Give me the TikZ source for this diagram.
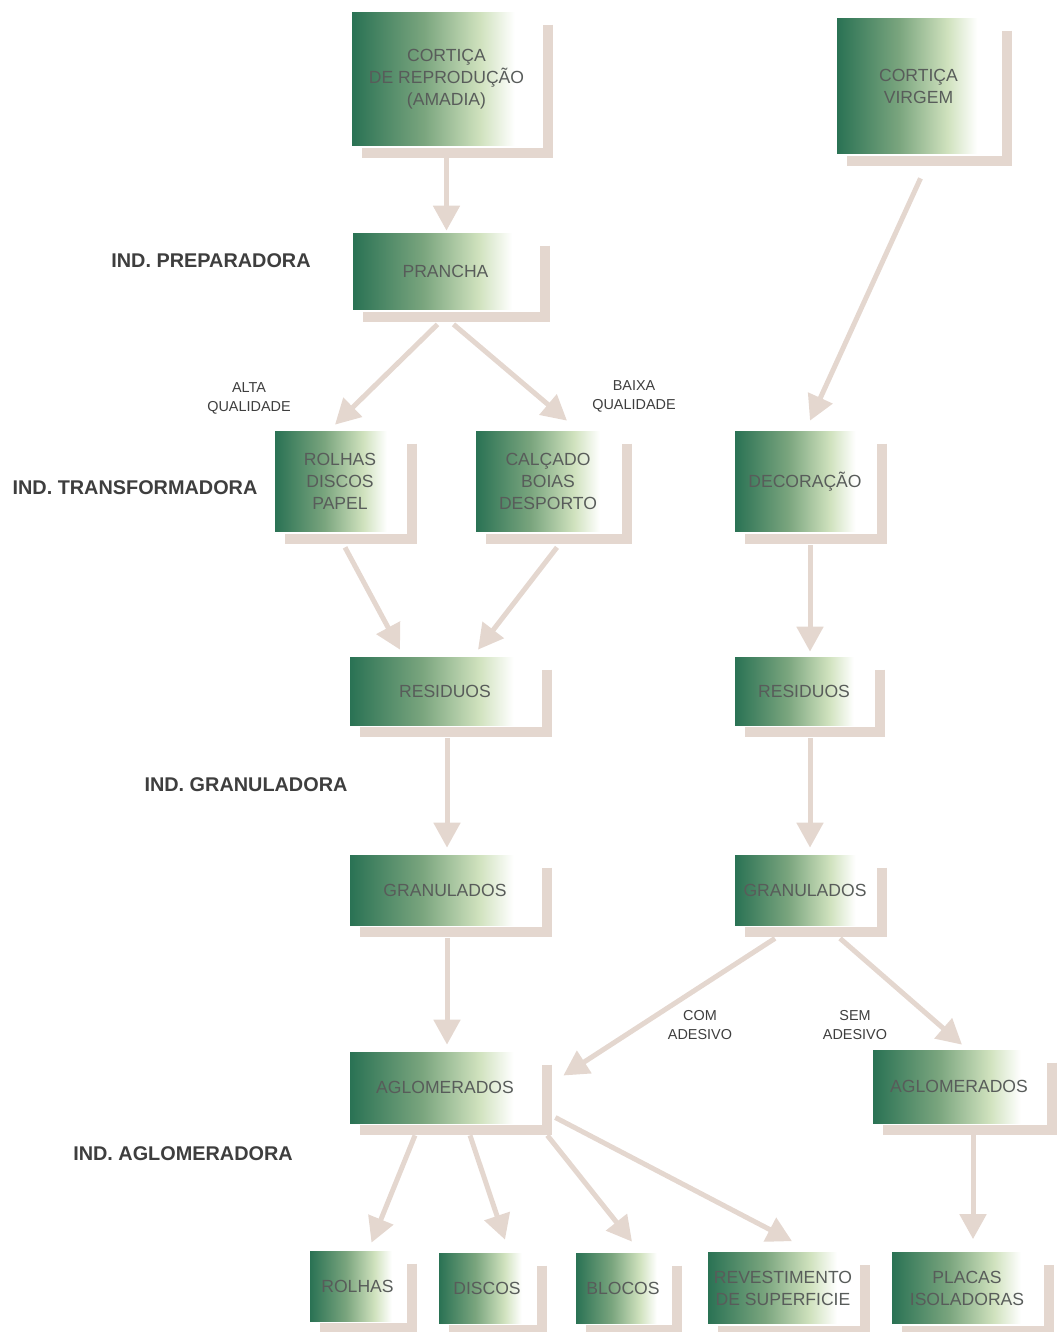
\documentclass[tikz,border=0pt]{standalone}
\usepackage{fontspec}
\setmainfont{Liberation Sans}
\usetikzlibrary{arrows.meta}
\definecolor{cwverde}{RGB}{42,114,84}
\definecolor{cwverdemed}{RGB}{122,165,126}
\definecolor{cwverdeclaro}{RGB}{208,226,190}
\definecolor{cwsombra}{RGB}{228,215,207}
\definecolor{cwtexto}{RGB}{88,92,90}
\definecolor{cwind}{RGB}{62,62,62}
\pgfdeclarehorizontalshading{cwfade}{100bp}{color(0bp)=(cwverde); color(25bp)=(cwverde); color(44bp)=(cwverdemed); color(59bp)=(cwverdeclaro); color(68bp)=(white); color(100bp)=(white)}
\tikzstyle{caixa} = [shade, shading=cwfade, inner sep=0pt, align=center, text=cwtexto, font=\fontsize{10}{12.5}\selectfont,
  append after command={\pgfextra{\draw[cwsombra, line width=0.2cm] ([shift={(7,13)}]\tikzlastnode.north east) |- ([shift={(10,7)}]\tikzlastnode.south west);}}]
\tikzstyle{seta} = [line width=0.1cm, cwsombra, -{Triangle[length=0.5cm,width=0.52cm]}]
\tikzstyle{ind} = [font=\fontsize{11.3}{13}\selectfont\bfseries, text=cwind]
\tikzstyle{nota} = [font=\fontsize{8.2}{10.8}\selectfont, align=center, text=cwind]

\begin{document}
\begin{tikzpicture}[x=0.02cm, y=-0.02cm]
\useasboundingbox (0,0) rectangle (1064,1332);
% Boxes
\node[caixa, minimum width=3.78cm, minimum height=2.68cm] (amadia) at (446.5,79) {CORTIÇA\\DE REPRODUÇÃO\\(AMADIA)};
\node[caixa, minimum width=3.26cm, minimum height=2.72cm] (virgem) at (918.5,86) {CORTIÇA\\VIRGEM};
\node[caixa, minimum width=3.7cm, minimum height=1.54cm] (prancha) at (445.5,271.5) {PRANCHA};
\node[caixa, minimum width=2.6cm, minimum height=2.02cm] (rolhasA) at (340,481.5) {ROLHAS\\DISCOS\\PAPEL};
\node[caixa, minimum width=2.88cm, minimum height=2.02cm] (calcado) at (548,481.5) {CALÇADO\\BOIAS\\DESPORTO};
\node[caixa, minimum width=2.8cm, minimum height=2.02cm] (decoracao) at (805,481.5) {DECORAÇÃO};
\node[caixa, minimum width=3.8cm, minimum height=1.36cm] (residuosA) at (445,691) {RESIDUOS};
\node[caixa, minimum width=2.76cm, minimum height=1.36cm] (residuosB) at (804,691) {RESIDUOS};
\node[caixa, minimum width=3.8cm, minimum height=1.4cm] (granA) at (445,890) {GRANULADOS};
\node[caixa, minimum width=2.8cm, minimum height=1.4cm] (granB) at (805,890) {GRANULADOS};
\node[caixa, minimum width=3.8cm, minimum height=1.42cm] (aglomA) at (445,1087.5) {AGLOMERADOS};
\node[caixa, minimum width=3.44cm, minimum height=1.46cm] (aglomB) at (959,1086.5) {AGLOMERADOS};
\node[caixa, minimum width=1.9cm, minimum height=1.4cm] (rolhasB) at (357.5,1286) {ROLHAS};
\node[caixa, minimum width=1.92cm, minimum height=1.4cm] (discos) at (487,1288) {DISCOS};
\node[caixa, minimum width=1.88cm, minimum height=1.4cm] (blocos) at (623,1288) {BLOCOS};
\node[caixa, minimum width=3cm, minimum height=1.42cm] (revest) at (783,1288) {REVESTIMENTO\\DE SUPERFICIE};
\node[caixa, minimum width=3cm, minimum height=1.42cm] (placas) at (967,1288) {PLACAS\\ISOLADORAS};

% Arrows
\draw[seta] ([shift={(0,11)}]amadia.south) -- ([shift={(1,-2)}]prancha.north);
\draw[seta] ([shift={(-8,14)}]prancha.south) -- ([shift={(-5,-6)}]rolhasA.north);
\draw[seta] ([shift={(8,14)}]prancha.south) -- ([shift={(19,-10)}]calcado.north);
\draw[seta] ([shift={(2,24)}]virgem.south) -- ([shift={(5,-10)}]decoracao.north);
\draw[seta] ([shift={(5,15)}]rolhasA.south) -- ([shift={(-45,-7)}]residuosA.north);
\draw[seta] ([shift={(9,15)}]calcado.south) -- ([shift={(33,-7)}]residuosA.north);
\draw[seta] ([shift={(5,13)}]decoracao.south) -- ([shift={(6,-5)}]residuosB.north);
\draw[seta] ([shift={(2,13)}]residuosA.south) -- ([shift={(2,-7)}]granA.north);
\draw[seta] ([shift={(6,13)}]residuosB.south) -- ([shift={(5,-7)}]granB.north);
\draw[seta] ([shift={(2,13)}]granA.south) -- ([shift={(2,-7)}]aglomA.north);
\draw[seta] ([shift={(-30,13)}]granB.south) -- ([shift={(23,-12)}]aglomA.east);
\draw[seta] ([shift={(35,13)}]granB.south) -- ([shift={(3,-5)}]aglomB.north);
\draw[seta] ([shift={(-30,12)}]aglomA.south) -- ([shift={(14,-8)}]rolhasB.north);
\draw[seta] ([shift={(25,12)}]aglomA.south) -- ([shift={(18,-13)}]discos.north);
\draw[seta] ([shift={(7,12)}]aglomA.south east) -- ([shift={(9,-11)}]blocos.north);
\draw[seta] ([shift={(15,30)}]aglomA.east) -- ([shift={(9,-11)}]revest.north);
\draw[seta] ([shift={(14,12)}]aglomB.south) -- ([shift={(6,-13)}]placas.north);

% Labels
\node[ind] (preparadora) at (211,261) {IND. PREPARADORA};
\node[ind] (transformadora) at (135,488) {IND. TRANSFORMADORA};
\node[ind] (granuladora) at (246,785) {IND. GRANULADORA};
\node[ind] (aglomeradora) at (183,1154) {IND. AGLOMERADORA};
\node[nota] (alta) at (249,398) {ALTA\\QUALIDADE};
\node[nota] (baixa) at (634,396) {BAIXA\\QUALIDADE};
\node[nota] (com) at (700,1025) {COM\\ADESIVO};
\node[nota] (sem) at (855,1025) {SEM\\ADESIVO};
\end{tikzpicture}
\end{document}
